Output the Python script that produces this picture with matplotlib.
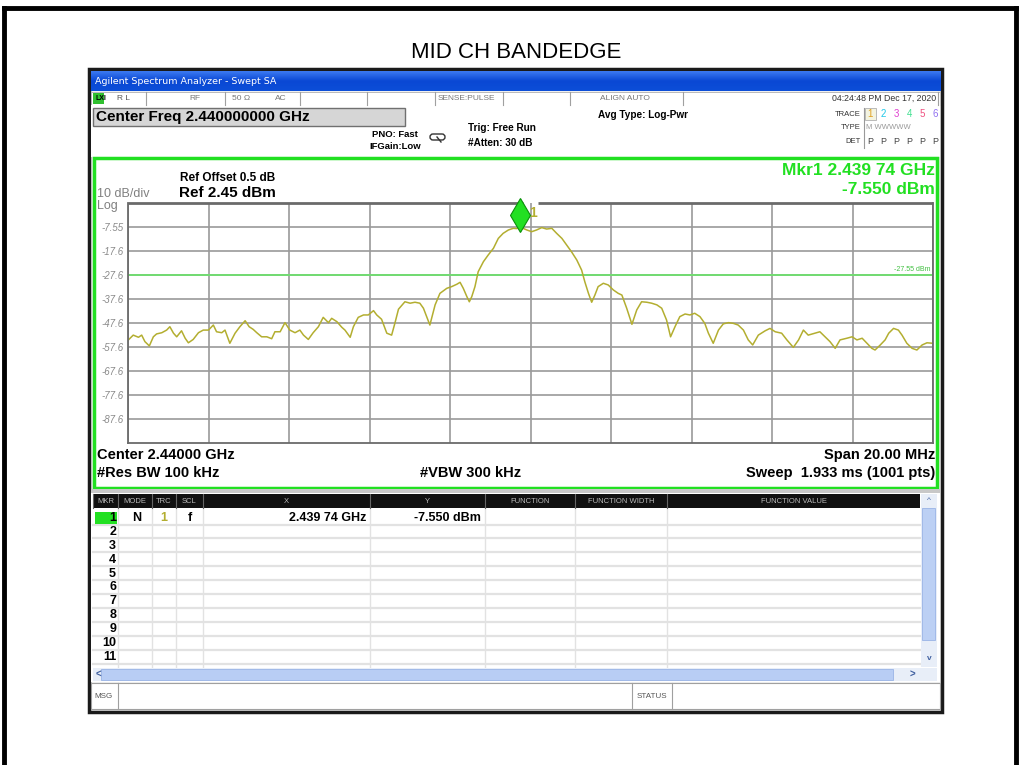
import matplotlib.pyplot as plt
from matplotlib.patches import Rectangle, FancyBboxPatch
import numpy as np

plt.rcParams['font.family'] = ['Liberation Sans', 'DejaVu Sans']

# trace 1 (MHz, dBm)
freq_mhz = [
    2430.01, 2430.13, 2430.26, 2430.34, 2430.42, 2430.53, 2430.63, 2430.71, 2430.84, 2430.96,
    2431.04, 2431.13, 2431.21, 2431.33, 2431.42, 2431.50, 2431.62, 2431.75, 2431.87, 2432.00,
    2432.12, 2432.20, 2432.33, 2432.41, 2432.53, 2432.66, 2432.78, 2432.91, 2433.01, 2433.11,
    2433.20, 2433.32, 2433.45, 2433.57, 2433.65, 2433.78, 2433.90, 2434.02, 2434.15, 2434.27,
    2434.36, 2434.48, 2434.60, 2434.73, 2434.85, 2434.98, 2435.06, 2435.19, 2435.31, 2435.39,
    2435.52, 2435.60, 2435.72, 2435.85, 2435.97, 2436.10, 2436.18, 2436.30, 2436.43, 2436.55,
    2436.63, 2436.72, 2436.88, 2437.01, 2437.13, 2437.25, 2437.34, 2437.42, 2437.50, 2437.63,
    2437.75, 2437.92, 2438.04, 2438.17, 2438.25, 2438.33, 2438.42, 2438.48, 2438.54, 2438.62,
    2438.70, 2438.83, 2438.95, 2439.08, 2439.20, 2439.32, 2439.45, 2439.57, 2439.66, 2439.74,
    2439.91, 2440.03, 2440.15, 2440.28, 2440.40, 2440.53, 2440.65, 2440.78, 2440.90, 2441.02,
    2441.15, 2441.27, 2441.35, 2441.44, 2441.52, 2441.60, 2441.68, 2441.81, 2441.93, 2442.06,
    2442.18, 2442.27, 2442.39, 2442.52, 2442.64, 2442.76, 2442.89, 2443.01, 2443.14, 2443.26,
    2443.38, 2443.48, 2443.59, 2443.71, 2443.84, 2443.96, 2444.08, 2444.21, 2444.33, 2444.42,
    2444.54, 2444.67, 2444.79, 2444.92, 2445.04, 2445.16, 2445.29, 2445.41, 2445.52, 2445.66,
    2445.83, 2445.95, 2446.08, 2446.24, 2446.37, 2446.53, 2446.66, 2446.78, 2446.90, 2447.07,
    2447.19, 2447.32, 2447.44, 2447.57, 2447.69, 2447.86, 2447.99, 2448.11, 2448.24, 2448.36,
    2448.48, 2448.56, 2448.69, 2448.81, 2448.90, 2449.02, 2449.14, 2449.23, 2449.35, 2449.48,
    2449.60, 2449.73, 2449.85, 2450.00,
]
level_dbm = [
    -54.6, -52.6, -53.5, -52.6, -55.3, -57.1, -53.3, -52.1, -51.6, -50.5,
    -49.1, -51.8, -53.3, -50.8, -53.9, -55.8, -54.4, -51.6, -50.5, -50.5,
    -48.4, -51.2, -51.6, -50.5, -56.0, -51.8, -49.1, -46.6, -49.1, -50.2,
    -51.6, -53.3, -53.3, -54.1, -51.2, -51.2, -47.4, -50.5, -51.6, -50.5,
    -52.6, -54.4, -51.6, -49.1, -45.2, -47.4, -45.6, -47.0, -49.3, -50.5,
    -53.5, -49.1, -45.2, -44.2, -44.2, -42.4, -44.2, -46.0, -51.8, -52.6,
    -47.7, -41.8, -38.7, -39.3, -38.9, -39.3, -41.4, -44.9, -48.4, -40.0,
    -35.2, -33.1, -32.4, -31.4, -30.6, -33.1, -36.6, -38.7, -36.6, -32.4,
    -26.2, -22.0, -19.2, -16.4, -12.3, -10.2, -8.8, -8.1, -8.2, -7.55,
    -8.8, -9.5, -8.8, -7.8, -8.4, -8.1, -10.2, -12.3, -15.1, -17.9,
    -21.3, -25.5, -30.4, -35.2, -38.9, -35.9, -32.4, -31.0, -31.7, -33.8,
    -35.2, -35.9, -41.4, -48.1, -42.1, -38.7, -38.9, -39.3, -40.0, -41.4,
    -46.3, -53.3, -49.1, -44.9, -43.8, -44.2, -43.5, -44.9, -47.7, -51.8,
    -56.0, -50.5, -47.9, -47.4, -47.7, -48.4, -50.5, -54.6, -56.7, -52.6,
    -50.8, -49.8, -51.2, -51.8, -54.6, -57.7, -54.6, -50.5, -52.6, -51.8,
    -51.2, -53.3, -55.3, -58.1, -54.6, -53.9, -53.3, -54.6, -53.9, -56.0,
    -58.1, -58.8, -56.7, -54.6, -51.8, -49.8, -50.5, -52.6, -56.0, -58.1,
    -58.8, -56.7, -55.8, -56.0,
]

start_mhz = 2430.0
stop_mhz = 2450.0
ref_level = 2.45
db_per_div = 10
display_line = -27.55
mkr_freq = 2439.74
mkr_level = -7.55
ytick_labels = ['-7.55', '-17.6', '-27.6', '-37.6', '-47.6', '-57.6', '-67.6', '-77.6', '-87.6']

table_cols = ['MKR', 'MODE', 'TRC', 'SCL', 'X', 'Y', 'FUNCTION', 'FUNCTION WIDTH', 'FUNCTION VALUE']
mkr_row = ['1', 'N', '1', 'f', '2.439 74 GHz', '-7.550 dBm']

TRACE_C = '#b3ae30'
GREEN = '#22e022'

W, H = 1021, 765
fig = plt.figure(figsize=(W / 100, H / 100), dpi=100)
bg = fig.add_axes([0, 0, 1, 1])
bg.set_xlim(0, W)
bg.set_ylim(H, 0)
bg.axis('off')


def box(x0, y0, x1, y1, fc='none', ec='none', lw=1.0, z=1):
    bg.add_patch(Rectangle((x0, y0), x1 - x0, y1 - y0, facecolor=fc, edgecolor=ec, linewidth=lw, zorder=z))


def put(x, y, s, size=8, color='black', weight='normal', ha='left', va='center', **kw):
    bg.text(x, y, s, fontsize=size, color=color, fontweight=weight, ha=ha, va=va, zorder=5, **kw)


# slide border + title
bg.plot([4, 4], [8, H], color='black', lw=3.5)
bg.plot([4, 1016], [8, 8], color='black', lw=3.5)
bg.plot([1016, 1016], [8, H], color='black', lw=3.5)
put(516, 52, 'MID CH BANDEDGE', size=16, ha='center')

# screenshot frame
box(89, 69, 942, 712, fc='#f0f0f0', ec='#1a1a1a', lw=2.5)

# window title bar
grad = np.linspace(0, 1, 20).reshape(-1, 1)
bg.imshow(grad, extent=[91, 940, 91, 71], cmap=plt.cm.colors.LinearSegmentedColormap.from_list(
    'tb', ['#3a78f0', '#0a48d4', '#0c4ed8']), aspect='auto', zorder=2)
put(95, 81, 'Agilent Spectrum Analyzer - Swept SA', size=6.8, color='white', family='DejaVu Sans')

# status strip
box(91, 92, 940, 105, fc='white', ec='#b0b0b0', lw=0.6, z=2)
for xs in [146, 225, 300, 367, 435, 503, 570, 683, 938]:
    bg.plot([xs, xs], [92, 105], color='#a0a0a0', lw=0.8, zorder=3)
box(93, 93, 104, 104, fc='#30c030', z=3)
put(95, 98.5, 'LXI', size=5, weight='bold')
put(117, 98.5, 'R L', size=6, color='#555555')
put(189, 98.5, 'RF', size=6, color='#777777')
put(232, 98.5, '50 Ω', size=6, color='#777777')
put(275, 98.5, 'AC', size=6, color='#777777')
put(438, 98.5, 'SENSE:PULSE', size=6, color='#777777')
put(600, 98.5, 'ALIGN AUTO', size=6, color='#777777')
put(936, 98.5, '04:24:48 PM Dec 17, 2020', size=6.3, color='#333333', ha='right')

# settings area
box(91, 105, 940, 157, fc='white', z=2)
box(93, 108, 405, 126, fc='#d6d6d6', ec='#707070', lw=1.0, z=3)
put(96, 117, 'Center Freq 2.440000000 GHz', size=11, weight='bold')
put(418, 134, 'PNO: Fast', size=6.8, weight='bold', ha='right')
put(421, 146, 'IFGain:Low', size=6.8, weight='bold', ha='right')
bg.add_patch(FancyBboxPatch((430, 134), 15, 6, boxstyle='round,pad=0,rounding_size=3',
                            fc='white', ec='#333333', lw=1.0, zorder=4))
bg.plot([437, 441], [137, 142], color='#333333', lw=1.0, zorder=4)
put(468, 128, 'Trig: Free Run', size=7.2, weight='bold')
put(468, 143, '#Atten: 30 dB', size=7.2, weight='bold')
put(598, 115, 'Avg Type: Log-Pwr', size=7.2, weight='bold')
put(861, 114, 'TRACE', size=5.5, color='#333333', ha='right')
put(861, 127, 'TYPE', size=5.5, color='#333333', ha='right')
put(861, 141, 'DET', size=5.5, color='#333333', ha='right')
bg.plot([864, 864], [108, 148], color='#999999', lw=0.8, zorder=3)
box(865, 108, 876, 120, fc='#f4f4e0', ec='#b0b0b0', lw=0.6, z=3)
for i, c in enumerate(['#e0a020', '#20c8e8', '#e040d0', '#40e090', '#f05080', '#9070f0']):
    put(870 + i * 13, 114, str(i + 1), size=7, color=c, ha='center')
    put(870 + i * 13, 141, 'P', size=6.5, color='#444444', ha='center')
put(866, 127, 'M WWWWW', size=5.5, color='#999999')

# display panel (green frame)
box(94, 158, 937, 488, fc='white', ec=GREEN, lw=2.5, z=2)
put(180, 178, 'Ref Offset 0.5 dB', size=8.5, weight='bold')
put(179, 193, 'Ref 2.45 dBm', size=11, weight='bold')
put(97, 194, '10 dB/div', size=9, color='#808080')
put(97, 206, 'Log', size=9, color='#808080')
put(935, 170, 'Mkr1 2.439 74 GHz', size=12.5, weight='bold', color=GREEN, ha='right')
put(935, 189, '-7.550 dBm', size=12.5, weight='bold', color=GREEN, ha='right')
put(97, 455, 'Center 2.44000 GHz', size=10.5, weight='bold')
put(97, 473, '#Res BW 100 kHz', size=10.5, weight='bold')
put(471, 473, '#VBW 300 kHz', size=10.5, weight='bold', ha='center')
put(935, 455, 'Span 20.00 MHz', size=10.5, weight='bold', ha='right')
put(935, 473, 'Sweep  1.933 ms (1001 pts)', size=10.5, weight='bold', ha='right')

# graticule + trace
ax = fig.add_axes([128 / W, 1 - 443 / H, (933 - 128) / W, (443 - 203) / H], zorder=3)
ax.set_xlim(start_mhz, stop_mhz)
ax.set_ylim(ref_level - 10 * db_per_div, ref_level)
ax.set_xticks(np.arange(start_mhz, stop_mhz + 0.1, 2))
ax.set_xticklabels([])
yt = [ref_level - db_per_div * (k + 1) for k in range(len(ytick_labels))]
ax.set_yticks(yt)
ax.set_yticklabels(ytick_labels, fontsize=7, color='#8a8a8a', style='italic')
ax.tick_params(length=0, pad=3)
ax.grid(True, color='#9a9a9a', lw=1.2)
for s in ['left', 'bottom', 'right']:
    ax.spines[s].set_color('#6a6a6a')
    ax.spines[s].set_linewidth(1.3)
ax.spines['top'].set_visible(False)
ax.hlines(ref_level, start_mhz, mkr_freq + 0.07, color='#6a6a6a', lw=2, clip_on=False)
ax.hlines(ref_level, mkr_freq + 0.45, stop_mhz, color='#6a6a6a', lw=2, clip_on=False)
ax.axhline(display_line, color='#6ee06e', lw=1.3)
ax.text(stop_mhz - 0.05, display_line + 0.8, '-27.55 dBm', fontsize=5, color='#40c040', ha='right', va='bottom')
ax.plot(freq_mhz, level_dbm, color=TRACE_C, lw=1.1)
ax.plot(mkr_freq, mkr_level + 5, marker='d', ms=17, mfc=GREEN, mec='#0a900a', mew=0.8, clip_on=False)
ax.text(mkr_freq + 0.22, mkr_level + 6, '1', fontsize=10, color=TRACE_C, fontweight='bold', va='center')

# marker table
box(91, 489, 940, 493, fc='#c8c8c8', z=2)
box(91, 493, 940, 682, fc='white', z=2)
edges = [93, 118, 152, 176, 203, 370, 485, 575, 667, 920]
box(93, 494, 920, 508, fc='#111111', z=3)
for i, name in enumerate(table_cols):
    put((edges[i] + edges[i + 1]) / 2, 501, name, size=5.5, color='#bbbbbb', ha='center')
    bg.plot([edges[i], edges[i]], [494, 508], color='#666666', lw=0.8, zorder=4)
row_y = [518 + 13.9 * k for k in range(11)]
for y in row_y:
    bg.plot([93, 920], [y + 6.5, y + 6.5], color='#e2e2e2', lw=1.6, zorder=3)
for xs in edges[1:-1]:
    bg.plot([xs, xs], [508, 667], color='#e2e2e2', lw=1.0, zorder=3)
box(95, 512, 117, 524, fc=GREEN, z=4)
put(116, row_y[0], mkr_row[0], size=9, weight='bold', ha='right')
put(137, row_y[0], mkr_row[1], size=9, weight='bold', ha='center')
put(164, row_y[0], mkr_row[2], size=9, weight='bold', ha='center', color=TRACE_C)
put(190, row_y[0], mkr_row[3], size=9, weight='bold', ha='center')
put(366, row_y[0], mkr_row[4], size=9, weight='bold', ha='right')
put(481, row_y[0], mkr_row[5], size=9, weight='bold', ha='right')
for k in range(1, 11):
    put(116, row_y[k], str(k + 1), size=9, weight='bold', ha='right')

# scroll bars
box(921, 494, 937, 667, fc='#e8eef8', z=3)
box(922, 508, 935, 640, fc='#bcd0f4', ec='#9ab4e6', lw=0.6, z=4)
put(929, 500, '^', size=6, color='#4060a0', ha='center')
put(929, 659, 'v', size=6, color='#4060a0', ha='center', weight='bold')
box(93, 668, 937, 681, fc='#e8eef8', z=3)
box(101, 669, 893, 680, fc='#b8cdf4', ec='#9ab4e6', lw=0.6, z=4)
put(96, 674.5, '<', size=7, color='#4060a0', weight='bold')
put(912, 674.5, '>', size=7, color='#4060a0', weight='bold', ha='center')

# status line
box(91, 683, 940, 709, fc='white', ec='#a0a0a0', lw=0.8, z=3)
for xs in [118, 632, 672]:
    bg.plot([xs, xs], [683, 709], color='#a0a0a0', lw=0.8, zorder=4)
put(94, 696, 'MSG', size=5.8, color='#555555')
put(652, 696, 'STATUS', size=5.8, color='#555555', ha='center')

fig.savefig('out.png', dpi=100)
